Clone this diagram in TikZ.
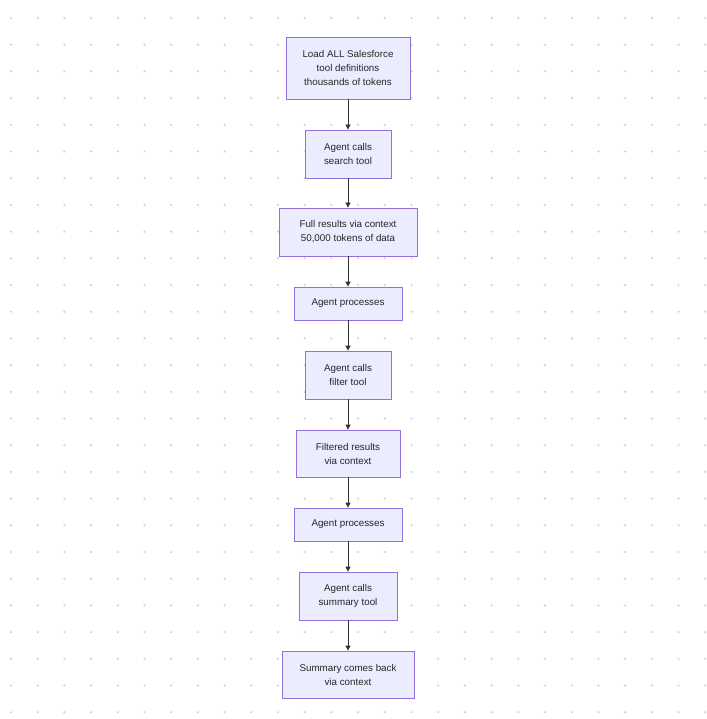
\documentclass[tikz,border=0pt]{standalone}
\usepackage{fontspec}
\setmainfont{Liberation Sans}
\usetikzlibrary{arrows.meta}
\definecolor{nfill}{HTML}{ECECFF}
\definecolor{nborder}{HTML}{9370DB}
\definecolor{edge}{HTML}{333333}
\begin{document}
\begin{tikzpicture}[x=1pt,y=-1pt,
  box/.style={draw=nborder,fill=nfill,line width=0.8pt,align=center,font=\fontsize{9.8}{14}\selectfont,inner sep=0pt,text=black!85},
  arr/.style={draw=edge,line width=0.8pt,-{Triangle[length=5pt,width=5pt]}}]
\fill[white] (0,0) rectangle (700,719);
\foreach \i in {0,...,26}{\foreach \j in {0,...,26}{
  \fill[black!18] (11+26.7*\i,18+26.7*\j) circle (1.2);}}
\node[box,minimum width=124,minimum height=62] (n1) at (348,68) {Load ALL Salesforce\\tool definitions\\thousands of tokens};
\node[box,minimum width=86,minimum height=48] (n2) at (348,154) {Agent calls\\search tool};
\node[box,minimum width=138,minimum height=48] (n3) at (348,232) {Full results via context\\50,000 tokens of data};
\node[box,minimum width=108,minimum height=33] (n4) at (348,303.5) {Agent processes};
\node[box,minimum width=86,minimum height=48] (n5) at (348,375) {Agent calls\\filter tool};
\node[box,minimum width=104,minimum height=47] (n6) at (348,453.5) {Filtered results\\via context};
\node[box,minimum width=108,minimum height=33] (n7) at (348,524.5) {Agent processes};
\node[box,minimum width=98,minimum height=48] (n8) at (348,596) {Agent calls\\summary tool};
\node[box,minimum width=132,minimum height=47] (n9) at (348,674.5) {Summary comes back\\via context};
\foreach \a/\b in {n1/n2,n2/n3,n3/n4,n4/n5,n5/n6,n6/n7,n7/n8,n8/n9}{\draw[arr] (\a) -- (\b);}
\end{tikzpicture}
\end{document}
